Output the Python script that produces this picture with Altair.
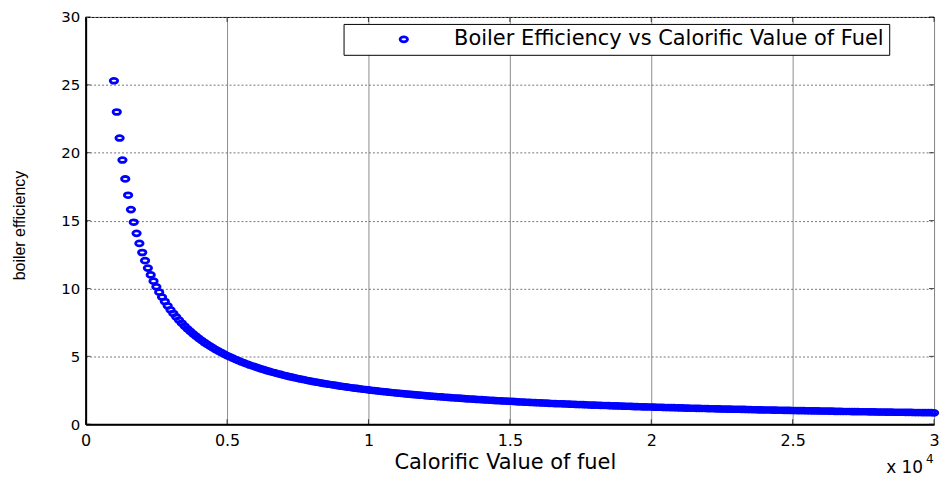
import altair as alt
import pandas as pd

# Calorific value of fuel (x axis, shown in units of 10^4)
calorific_value = [
    1000, 1100, 1200, 1300, 1400, 1500, 1600, 1700, 1800, 1900,
    2000, 2100, 2200, 2300, 2400, 2500, 2600, 2700, 2800, 2900,
    3000, 3100, 3200, 3300, 3400, 3500, 3600, 3700, 3800, 3900,
    4000, 4100, 4200, 4300, 4400, 4500, 4600, 4700, 4800, 4900,
    5000, 5100, 5200, 5300, 5400, 5500, 5600, 5700, 5800, 5900,
    6000, 6100, 6200, 6300, 6400, 6500, 6600, 6700, 6800, 6900,
    7000, 7100, 7200, 7300, 7400, 7500, 7600, 7700, 7800, 7900,
    8000, 8100, 8200, 8300, 8400, 8500, 8600, 8700, 8800, 8900,
    9000, 9100, 9200, 9300, 9400, 9500, 9600, 9700, 9800, 9900,
    10000, 10100, 10200, 10300, 10400, 10500, 10600, 10700, 10800, 10900,
    11000, 11100, 11200, 11300, 11400, 11500, 11600, 11700, 11800, 11900,
    12000, 12100, 12200, 12300, 12400, 12500, 12600, 12700, 12800, 12900,
    13000, 13100, 13200, 13300, 13400, 13500, 13600, 13700, 13800, 13900,
    14000, 14100, 14200, 14300, 14400, 14500, 14600, 14700, 14800, 14900,
    15000, 15100, 15200, 15300, 15400, 15500, 15600, 15700, 15800, 15900,
    16000, 16100, 16200, 16300, 16400, 16500, 16600, 16700, 16800, 16900,
    17000, 17100, 17200, 17300, 17400, 17500, 17600, 17700, 17800, 17900,
    18000, 18100, 18200, 18300, 18400, 18500, 18600, 18700, 18800, 18900,
    19000, 19100, 19200, 19300, 19400, 19500, 19600, 19700, 19800, 19900,
    20000, 20100, 20200, 20300, 20400, 20500, 20600, 20700, 20800, 20900,
    21000, 21100, 21200, 21300, 21400, 21500, 21600, 21700, 21800, 21900,
    22000, 22100, 22200, 22300, 22400, 22500, 22600, 22700, 22800, 22900,
    23000, 23100, 23200, 23300, 23400, 23500, 23600, 23700, 23800, 23900,
    24000, 24100, 24200, 24300, 24400, 24500, 24600, 24700, 24800, 24900,
    25000, 25100, 25200, 25300, 25400, 25500, 25600, 25700, 25800, 25900,
    26000, 26100, 26200, 26300, 26400, 26500, 26600, 26700, 26800, 26900,
    27000, 27100, 27200, 27300, 27400, 27500, 27600, 27700, 27800, 27900,
    28000, 28100, 28200, 28300, 28400, 28500, 28600, 28700, 28800, 28900,
    29000, 29100, 29200, 29300, 29400, 29500, 29600, 29700, 29800, 29900,
    30000,
]

# Boiler efficiency
boiler_efficiency = [
    25.30, 23.00, 21.08, 19.46, 18.07, 16.87, 15.81, 14.88, 14.06, 13.32,
    12.65, 12.05, 11.50, 11.00, 10.54, 10.12, 9.73, 9.37, 9.04, 8.72,
    8.43, 8.16, 7.91, 7.67, 7.44, 7.23, 7.03, 6.84, 6.66, 6.49,
    6.33, 6.17, 6.02, 5.88, 5.75, 5.62, 5.50, 5.38, 5.27, 5.16,
    5.06, 4.96, 4.87, 4.77, 4.69, 4.60, 4.52, 4.44, 4.36, 4.29,
    4.22, 4.15, 4.08, 4.02, 3.95, 3.89, 3.83, 3.78, 3.72, 3.67,
    3.61, 3.56, 3.51, 3.47, 3.42, 3.37, 3.33, 3.29, 3.24, 3.20,
    3.16, 3.12, 3.09, 3.05, 3.01, 2.98, 2.94, 2.91, 2.88, 2.84,
    2.81, 2.78, 2.75, 2.72, 2.69, 2.66, 2.64, 2.61, 2.58, 2.56,
    2.53, 2.50, 2.48, 2.46, 2.43, 2.41, 2.39, 2.36, 2.34, 2.32,
    2.30, 2.28, 2.26, 2.24, 2.22, 2.20, 2.18, 2.16, 2.14, 2.13,
    2.11, 2.09, 2.07, 2.06, 2.04, 2.02, 2.01, 1.99, 1.98, 1.96,
    1.95, 1.93, 1.92, 1.90, 1.89, 1.87, 1.86, 1.85, 1.83, 1.82,
    1.81, 1.79, 1.78, 1.77, 1.76, 1.74, 1.73, 1.72, 1.71, 1.70,
    1.69, 1.68, 1.66, 1.65, 1.64, 1.63, 1.62, 1.61, 1.60, 1.59,
    1.58, 1.57, 1.56, 1.55, 1.54, 1.53, 1.52, 1.51, 1.51, 1.50,
    1.49, 1.48, 1.47, 1.46, 1.45, 1.45, 1.44, 1.43, 1.42, 1.41,
    1.41, 1.40, 1.39, 1.38, 1.38, 1.37, 1.36, 1.35, 1.35, 1.34,
    1.33, 1.32, 1.32, 1.31, 1.30, 1.30, 1.29, 1.28, 1.28, 1.27,
    1.27, 1.26, 1.25, 1.25, 1.24, 1.23, 1.23, 1.22, 1.22, 1.21,
    1.20, 1.20, 1.19, 1.19, 1.18, 1.18, 1.17, 1.17, 1.16, 1.16,
    1.15, 1.14, 1.14, 1.13, 1.13, 1.12, 1.12, 1.11, 1.11, 1.10,
    1.10, 1.10, 1.09, 1.09, 1.08, 1.08, 1.07, 1.07, 1.06, 1.06,
    1.05, 1.05, 1.05, 1.04, 1.04, 1.03, 1.03, 1.02, 1.02, 1.02,
    1.01, 1.01, 1.00, 1.00, 1.00, 0.99, 0.99, 0.98, 0.98, 0.98,
    0.97, 0.97, 0.97, 0.96, 0.96, 0.95, 0.95, 0.95, 0.94, 0.94,
    0.94, 0.93, 0.93, 0.93, 0.92, 0.92, 0.92, 0.91, 0.91, 0.91,
    0.90, 0.90, 0.90, 0.89, 0.89, 0.89, 0.88, 0.88, 0.88, 0.88,
    0.87, 0.87, 0.87, 0.86, 0.86, 0.86, 0.85, 0.85, 0.85, 0.85,
    0.84,
]

series_name = "Boiler Efficiency vs Calorific Value of Fuel"
x_ticks = [0, 5000, 10000, 15000, 20000, 25000, 30000]
y_ticks = [0, 5, 10, 15, 20, 25, 30]
exponent_base = ["x 10"]
exponent_power = ["4"]

df = pd.DataFrame({"cv": calorific_value, "eff": boiler_efficiency})
df["series"] = series_name
xt = pd.DataFrame({"cv": x_ticks})
yt = pd.DataFrame({"eff": y_ticks})

# wide ellipse ring (MATLAB 'o' markers on a stretched figure)
ELLIPSE = ("M -1 0 C -1 -0.359 -0.552 -0.65 0 -0.65 C 0.552 -0.65 1 -0.359 1 0 "
           "C 1 0.359 0.552 0.65 0 0.65 C -0.552 0.65 -1 0.359 -1 0 Z")

W, H = 852, 409
FONT = "DejaVu Sans"

xscale = alt.Scale(domain=[0, 30000], nice=False, zero=False)
yscale = alt.Scale(domain=[0, 30], nice=False, zero=False)

xaxis = alt.Axis(
    values=x_ticks, labelExpr="'' + datum.value / 10000",
    title="Calorific Value of fuel", grid=True, gridColor="#8c8c8c", gridWidth=1,
    ticks=False, labelFlush=False, domainColor="black", domainWidth=2,
    labelFont=FONT, labelFontSize=16, labelColor="black", labelPadding=8,
    titleFont=FONT, titleFontSize=21, titleFontWeight="normal", titleColor="black",
    titleX=421, titleY=38, titleAlign="center", titleBaseline="middle",
)
yaxis = alt.Axis(
    values=y_ticks, title="boiler efficiency", grid=True, gridColor="#777777",
    gridDash=[2, 2], gridWidth=1, ticks=False, labelFlush=False,
    domainColor="black", domainWidth=2,
    labelFont=FONT, labelFontSize=15, labelColor="black", labelPadding=6,
    titleFont="Liberation Sans", titleFontSize=16, titleFontWeight="normal",
    titleColor="black", titleX=-66, titleY=209, titleAngle=270,
    titleAlign="center", titleBaseline="middle",
)

X = alt.X("cv:Q", scale=xscale, axis=xaxis, title="Calorific Value of fuel")
Y = alt.Y("eff:Q", scale=yscale, axis=yaxis, title="boiler efficiency")

points = alt.Chart(df).mark_point(
    shape=ELLIPSE, filled=False, size=56, strokeWidth=2.8, opacity=1
).encode(
    x=X,
    y=Y,
    color=alt.Color(
        "series:N", scale=alt.Scale(range=["#0000ff"]),
        legend=alt.Legend(
            title=None, orient="none", legendX=259, legendY=7,
            strokeColor="black", fillColor="white", padding=5, cornerRadius=0,
            symbolType=ELLIPSE, symbolSize=56, symbolStrokeWidth=2.8,
            symbolOffset=45, labelOffset=40,
            labelFont=FONT, labelFontSize=21, labelColor="black", labelLimit=800,
        ),
    ),
)

tick_style = dict(size=5, thickness=1, color="black")
tick_left = alt.Chart(yt).mark_tick(orient="horizontal", **tick_style).encode(
    x=alt.value(2.5), y=Y)
tick_right = alt.Chart(yt).mark_tick(orient="horizontal", **tick_style).encode(
    x=alt.value(W - 2.5), y=Y)
tick_bottom = alt.Chart(xt).mark_tick(orient="vertical", **tick_style).encode(
    x=X, y=alt.value(H - 2.5))
tick_top = alt.Chart(xt).mark_tick(orient="vertical", **tick_style).encode(
    x=X, y=alt.value(2.5))

exp_base = alt.Chart(pd.DataFrame({"t": exponent_base})).mark_text(
    align="right", baseline="alphabetic", font=FONT, fontSize=17, color="black"
).encode(x=alt.value(W - 11), y=alt.value(H + 49), text="t:N")
exp_pow = alt.Chart(pd.DataFrame({"t": exponent_power})).mark_text(
    align="left", baseline="alphabetic", font=FONT, fontSize=12, color="black"
).encode(x=alt.value(W - 8), y=alt.value(H + 39), text="t:N")

chart = alt.layer(
    points, tick_left, tick_right, tick_bottom, tick_top, exp_base, exp_pow
).properties(
    width=W, height=H,
    autosize=alt.AutoSizeParams(type="none"),
    padding={"left": 78, "top": 8, "right": 5, "bottom": 52},
    background="white",
).configure_view(stroke="black", strokeWidth=1)

chart.save("out.html", embed_options={"renderer": "svg", "actions": False})
